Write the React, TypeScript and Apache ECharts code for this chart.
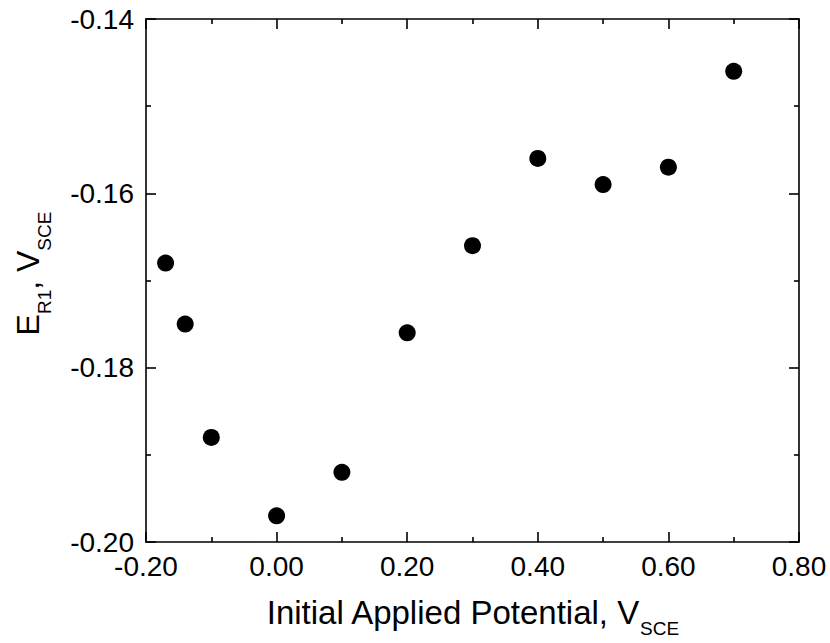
import React, { useEffect, useRef } from "react";
import * as echarts from "echarts";

const xValues = [-0.17, -0.14, -0.1, 0.0, 0.1, 0.2, 0.3, 0.4, 0.5, 0.6, 0.7];
const yValues = [-0.168, -0.175, -0.188, -0.197, -0.192, -0.176, -0.166, -0.156, -0.159, -0.157, -0.146];

const xMin = -0.2;
const xMax = 0.8;
const xStep = 0.2;
const yMin = -0.2;
const yMax = -0.14;
const yStep = 0.02;

const FONT = "'Liberation Sans', Arial, Helvetica, sans-serif";

export default function App() {
  const ref = useRef<HTMLDivElement>(null);
  useEffect(() => {
    if (!ref.current) return;
    const chart = echarts.init(ref.current, null, { renderer: "svg" });
    const axisLine = { show: true, onZero: false, lineStyle: { color: "#000", width: 1.6 } };
    const tick = { show: true, inside: true, length: 10, lineStyle: { color: "#000", width: 1.6 } };
    const minor = { show: true, splitNumber: 2, length: 5, lineStyle: { color: "#000", width: 1.6 } };
    const labelStyle = { color: "#000", fontSize: 28, fontFamily: FONT };
    const xMain = { fontSize: 33, fontFamily: FONT, color: "#000", lineHeight: 52 };
    const xSub = { fontSize: 19, fontFamily: FONT, color: "#000", lineHeight: 16, verticalAlign: "bottom" };
    const yMain = { fontSize: 32, fontFamily: FONT, color: "#000", lineHeight: 52 };
    const ySub = { fontSize: 19, fontFamily: FONT, color: "#000", lineHeight: 16, verticalAlign: "bottom" };
    chart.setOption({
      animation: false,
      backgroundColor: "#fff",
      grid: { left: 146, top: 19, right: 31, bottom: 100, containLabel: false },
      xAxis: [
        {
          type: "value",
          min: xMin,
          max: xMax,
          interval: xStep,
          position: "bottom",
          axisLine,
          axisTick: tick,
          minorTick: minor,
          splitLine: { show: false },
          axisLabel: { ...labelStyle, margin: 10, formatter: (v: number) => v.toFixed(2) },
          name: "{a|Initial Applied Potential, V}{s|SCE}",
          nameLocation: "middle",
          nameGap: 44,
          nameTextStyle: { rich: { a: xMain, s: xSub } },
        },
        {
          type: "value",
          min: xMin,
          max: xMax,
          interval: xStep,
          position: "top",
          axisLine,
          axisTick: tick,
          minorTick: minor,
          splitLine: { show: false },
          axisLabel: { show: false },
        },
      ],
      yAxis: [
        {
          type: "value",
          min: yMin,
          max: yMax,
          interval: yStep,
          position: "left",
          axisLine,
          axisTick: tick,
          minorTick: minor,
          splitLine: { show: false },
          axisLabel: { ...labelStyle, margin: 12, formatter: (v: number) => v.toFixed(2) },
          name: "{a|E}{s|R1}{a|, V}{s|SCE}",
          nameLocation: "middle",
          nameGap: 92,
          nameTextStyle: { padding: [0, 0, 0, 14], rich: { a: yMain, s: ySub } },
        },
        {
          type: "value",
          min: yMin,
          max: yMax,
          interval: yStep,
          position: "right",
          axisLine,
          axisTick: tick,
          minorTick: minor,
          splitLine: { show: false },
          axisLabel: { show: false },
        },
      ],
      series: [
        {
          type: "scatter",
          xAxisIndex: 0,
          yAxisIndex: 0,
          symbol: "circle",
          symbolSize: 17,
          itemStyle: { color: "#000", opacity: 1 },
          data: xValues.map((x, i) => [x, yValues[i]]),
        },
      ],
    });
    return () => chart.dispose();
  }, []);
  return <div ref={ref} style={{ width: 830, height: 643, position: "absolute", left: 0, top: 0 }} />;
}
